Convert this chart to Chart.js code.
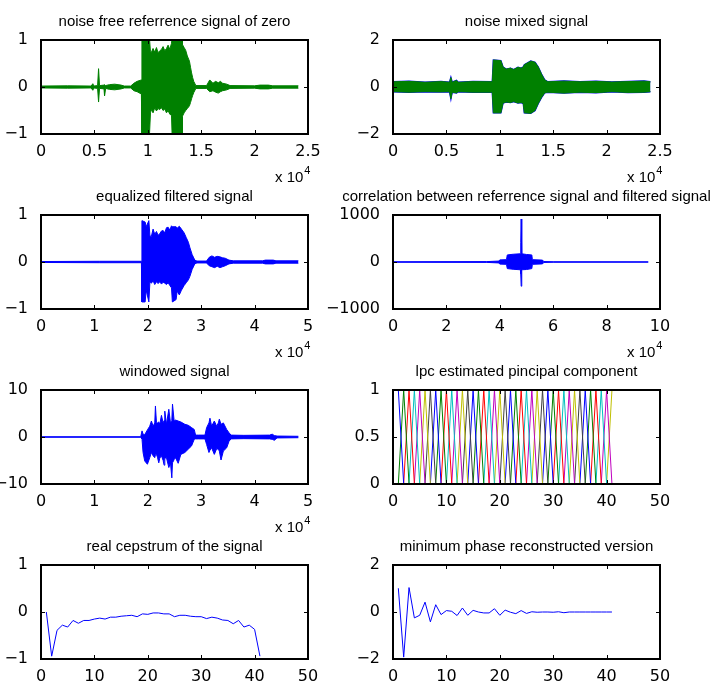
<!DOCTYPE html>
<html>
<head>
<meta charset="utf-8">
<script src="https://cdn.jsdelivr.net/npm/chart.js@4/dist/chart.umd.min.js"></script>
<style>
  html, body { margin: 0; padding: 0; background: #fff; overflow: hidden; }
  #wrap { position: relative; width: 712px; height: 682px; }
  #wrap canvas { position: absolute; left: 0; }
</style>
</head>
<body>
<div id="wrap"></div>
<script>
// ---- data (envelopes of the dense signals: x, upper, lower) ----
const titles = [
  'noise free referrence signal of zero',
  'noise mixed signal',
  'equalized filtered signal',
  'correlation between referrence signal and filtered signal',
  'windowed signal',
  'lpc estimated pincipal component',
  'real cepstrum of the signal',
  'minimum phase reconstructed version'
];

const refX  = [0, 2500, 4700, 4850, 4950, 5300, 5390, 5480, 5900, 5950, 6050, 6400, 6900, 7500, 7800, 8400, 8700, 9000, 9400, 9450, 10150, 10250, 10340, 10490, 10650, 10810, 10960, 11120, 11280, 11430, 11590, 11750, 11900, 12060, 12220, 12280, 13220, 13250, 13400, 13550, 13700, 13900, 14000, 14100, 14200, 14300, 14500, 15500, 15800, 16100, 16350, 16600, 16800, 17000, 17400, 17700, 20000, 20500, 21300, 21700, 24100];
const refUp = [0.02, 0.025, 0.02, 0.07, 0.02, 0.03, 0.39, 0.03, 0.04, 0.05, 0.03, 0.05, 0.06, 0.04, 0.02, 0.02, 0.08, 0.12, 0.15, 1.05, 1.05, 0.75, 0.74, 0.82, 0.74, 0.84, 0.73, 0.77, 0.8, 0.86, 0.77, 0.82, 0.89, 0.8, 0.93, 1.05, 1.05, 0.9, 0.84, 0.78, 0.66, 0.55, 0.42, 0.3, 0.2, 0.12, 0.03, 0.03, 0.15, 0.08, 0.12, 0.09, 0.12, 0.08, 0.06, 0.03, 0.025, 0.04, 0.04, 0.025, 0.025];
const refLo = [-0.02, -0.025, -0.02, -0.07, -0.02, -0.03, -0.32, -0.03, -0.04, -0.19, -0.03, -0.05, -0.06, -0.04, -0.02, -0.02, -0.08, -0.1, -0.15, -1.05, -1.05, -0.55, -0.48, -0.55, -0.44, -0.51, -0.46, -0.48, -0.44, -0.5, -0.47, -0.55, -0.5, -0.58, -0.6, -1.05, -1.05, -0.62, -0.55, -0.5, -0.46, -0.4, -0.33, -0.25, -0.18, -0.12, -0.03, -0.03, -0.1, -0.08, -0.11, -0.13, -0.1, -0.08, -0.06, -0.03, -0.025, -0.04, -0.04, -0.025, -0.025];

const mixX  = [0, 1500, 3000, 4500, 5300, 5420, 5540, 5950, 6100, 7500, 9300, 9400, 10100, 10300, 10600, 11000, 11300, 11700, 12000, 12200, 12300, 12900, 13300, 13600, 13900, 14200, 14500, 16000, 17500, 19000, 20500, 22000, 23500, 24100];
const mixUp = [0.22, 0.24, 0.2, 0.23, 0.2, 0.4, 0.2, 0.28, 0.2, 0.23, 0.22, 1.15, 1.12, 0.85, 0.76, 0.8, 0.74, 0.84, 0.8, 0.85, 0.95, 1.1, 1.05, 0.85, 0.55, 0.3, 0.22, 0.25, 0.22, 0.24, 0.21, 0.23, 0.25, 0.22];
const mixLo = [-0.2, -0.22, -0.2, -0.21, -0.2, -0.5, -0.22, -0.25, -0.2, -0.22, -0.22, -1.1, -1.1, -0.68, -0.64, -0.66, -0.62, -0.68, -0.66, -0.7, -1.1, -1.12, -1.0, -0.7, -0.45, -0.25, -0.22, -0.26, -0.22, -0.24, -0.2, -0.23, -0.22, -0.2];

const eqX  = [0, 11000, 18800, 18900, 19500, 19700, 20200, 20400, 20680, 20990, 21300, 21620, 21930, 22240, 22560, 22870, 23180, 23500, 23810, 24120, 24440, 24600, 25300, 25500, 25900, 26300, 26800, 27200, 27600, 27900, 28300, 28800, 29200, 31000, 31500, 32000, 32500, 33000, 33500, 34000, 34500, 35200, 36000, 41500, 42000, 43500, 44000, 48200];
const eqUp = [0.01, 0.015, 0.015, 0.88, 0.85, 0.75, 0.88, 0.55, 0.55, 0.7, 0.59, 0.65, 0.57, 0.6, 0.66, 0.67, 0.62, 0.73, 0.74, 0.68, 0.77, 0.75, 0.75, 0.72, 0.76, 0.7, 0.62, 0.52, 0.42, 0.3, 0.16, 0.04, 0.02, 0.02, 0.1, 0.13, 0.1, 0.12, 0.11, 0.09, 0.08, 0.04, 0.025, 0.025, 0.04, 0.04, 0.025, 0.025];
const eqLo = [-0.01, -0.015, -0.015, -0.85, -0.85, -0.6, -0.85, -0.42, -0.45, -0.4, -0.48, -0.42, -0.46, -0.42, -0.47, -0.43, -0.45, -0.48, -0.44, -0.5, -0.55, -0.85, -0.8, -0.62, -0.7, -0.6, -0.5, -0.44, -0.38, -0.3, -0.16, -0.04, -0.02, -0.02, -0.08, -0.1, -0.12, -0.09, -0.12, -0.1, -0.08, -0.04, -0.025, -0.025, -0.04, -0.04, -0.025, -0.025];

const corrX  = [0, 35000, 39700, 40000, 42500, 42800, 45000, 47700, 47850, 48000, 48150, 48300, 50000, 52000, 52200, 56000, 56500, 60000, 95600];
const corrUp = [5, 8, 20, 45, 50, 150, 165, 175, 420, 915, 420, 175, 160, 150, 50, 40, 10, 5, 3];
const corrLo = [-5, -8, -20, -45, -50, -140, -155, -165, -250, -515, -250, -165, -160, -140, -50, -40, -10, -5, -3];

const winX  = [0, 18672, 18922, 19110, 19424, 19925, 20363, 20677, 20990, 21303, 21429, 21617, 21805, 22055, 22243, 22556, 22870, 23058, 23183, 23496, 23935, 24248, 24499, 24624, 24937, 25188, 25689, 26190, 26942, 27569, 28195, 28697, 28947, 29500, 30700, 31015, 31454, 31642, 31955, 32456, 32895, 33208, 33396, 33709, 34148, 34774, 35213, 35589, 38000, 42800, 43300, 43700, 44200, 48200];
const winUp = [0.05, 0.05, 1.3, 0.6, 0.5, 1.5, 2.3, 3.4, 2.3, 3.0, 6.6, 3.2, 3.0, 3.2, 2.7, 4.6, 3.0, 3.5, 5.5, 2.7, 5.9, 3.0, 3.5, 7.0, 3.4, 3.6, 3.4, 3.2, 2.7, 2.5, 2.0, 1.6, 0.4, 0.4, 0.4, 2.0, 3.0, 4.0, 2.3, 3.4, 2.3, 3.0, 3.8, 2.7, 3.0, 1.6, 0.9, 0.4, 0.35, 0.4, 0.6, 0.3, 0.2, 0.15];
const winLo = [-0.05, -0.05, -0.5, -3.3, -5.1, -5.8, -4.4, -3.3, -4.0, -4.4, -3.8, -3.7, -4.3, -5.5, -4.5, -4.0, -5.0, -6.0, -4.5, -4.4, -6.5, -5.5, -8.7, -5.5, -4.8, -4.4, -5.6, -3.7, -3.3, -2.6, -1.9, -0.5, -0.4, -0.4, -0.4, -1.6, -3.3, -2.8, -2.3, -3.7, -2.5, -2.6, -3.0, -4.9, -3.0, -2.3, -0.9, -0.4, -0.35, -0.4, -0.5, -0.7, -0.2, -0.15];

const lpcX     = [1, 2, 3, 4, 5, 6, 7, 8, 9, 10, 11, 12, 13, 14, 15, 16, 17, 18, 19, 20, 21, 22, 23, 24, 25, 26, 27, 28, 29, 30, 31, 32, 33, 34, 35, 36, 37, 38, 39, 40, 41];
const lpcPeaks = [1, 2, 3, 4, 5, 6, 7, 8, 9, 10, 11, 12, 13, 14, 15, 16, 17, 18, 19, 20, 21, 22, 23, 24, 25, 26, 27, 28, 29, 30, 31, 32, 33, 34, 35, 36, 37, 38, 39, 40, 41];
const lpcColors = ['#0000ff', '#008000', '#ff0000', '#00bfbf', '#bf00bf', '#bfbf00', '#404040'];

const cepX = lpcX;
const cepY = [0, -0.94, -0.39, -0.28, -0.32, -0.18, -0.24, -0.18, -0.18, -0.15, -0.13, -0.15, -0.11, -0.11, -0.09, -0.08, -0.07, -0.1, -0.04, -0.05, -0.02, -0.02, -0.04, -0.04, -0.1, -0.07, -0.07, -0.09, -0.1, -0.1, -0.14, -0.11, -0.13, -0.17, -0.18, -0.25, -0.18, -0.32, -0.28, -0.37, -0.94];

const minX = lpcX;
const minY = [1.01, -1.92, 1.04, -0.25, -0.14, 0.42, -0.42, 0.31, -0.11, 0.06, 0.03, -0.15, 0.17, -0.14, 0.07, 0, -0.04, -0.04, 0.14, -0.14, 0.08, -0.01, -0.07, 0.06, -0.06, 0.01, -0.01, 0, 0, -0.01, 0.01, -0.03, 0, 0, 0, 0, 0, 0, 0, 0, 0];

// tick labels
const ticks25k  = ['0', '0.5', '1', '1.5', '2', '2.5'];
const ticks50k  = ['0', '1', '2', '3', '4', '5'];
const ticks100k = ['0', '2', '4', '6', '8', '10'];
const ticks50   = ['0', '10', '20', '30', '40', '50'];
const yTicks1   = ['\u22121', '0', '1'];
const yTicks2   = ['\u22122', '0', '2'];
const yTicks10  = ['\u221210', '0', '10'];
const yTicks1000 = ['\u22121000', '0', '1000'];
const yTicksLpc = ['0', '0.5', '1'];

// ---- drawing ----
const FONT = "'Liberation Sans', Arial, Helvetica, sans-serif";
const TICK_FONT = "'DejaVu Sans', sans-serif";
const BLUE = '#0000ff', GREEN = '#008000';
const CW = 712, CH = 200;

const pts = (xs, ys) => xs.map((x, i) => ({ x, y: ys[i] }));

function band(xs, up, lo, color, width) {
  return [
    { data: pts(xs, up), borderColor: color, backgroundColor: color, borderWidth: width, fill: '+1' },
    { data: pts(xs, lo), borderColor: color, backgroundColor: color, borderWidth: width, fill: false }
  ];
}

// MATLAB style box, inward ticks, title and the "x 10^4" multiplier
const matlabAxes = {
  id: 'matlabAxes',
  afterDraw(chart, args, o) {
    const { ctx, chartArea: a, scales: { x, y } } = chart;
    ctx.save();
    ctx.strokeStyle = '#000';
    ctx.lineWidth = 1;
    ctx.beginPath();
    x.ticks.forEach(t => {
      const p = Math.round(x.getPixelForValue(t.value)) + 0.5;
      ctx.moveTo(p, a.bottom); ctx.lineTo(p, a.bottom - 4);
      ctx.moveTo(p, a.top); ctx.lineTo(p, a.top + 4);
    });
    y.ticks.forEach(t => {
      const p = Math.round(y.getPixelForValue(t.value)) + 0.5;
      ctx.moveTo(a.left, p); ctx.lineTo(a.left + 4, p);
      ctx.moveTo(a.right, p); ctx.lineTo(a.right - 4, p);
    });
    ctx.stroke();
    ctx.lineWidth = 2;
    ctx.strokeRect(a.left, a.top, a.right - a.left, a.bottom - a.top);

    ctx.fillStyle = '#000';
    ctx.font = '15px ' + FONT;
    ctx.textAlign = 'center';
    ctx.textBaseline = 'alphabetic';
    ctx.fillText(o.title, (a.left + a.right) / 2, 26);

    if (o.exponent) {
      ctx.textAlign = 'left';
      const x0 = a.right - 33;
      ctx.fillText('x 10', x0, a.bottom + 48);
      const w = ctx.measureText('x 10').width;
      ctx.font = '11px ' + FONT;
      ctx.fillText('4', x0 + w + 1, a.bottom + 40);
    }
    ctx.restore();
  }
};

function makeChart(i, datasets, xr, yr, xLabels, yLabels, exponent) {
  const col = i % 2, row = Math.floor(i / 2);
  const left = col ? 393 : 41, right = col ? 660 : 308;
  const cv = document.createElement('canvas');
  cv.width = CW; cv.height = CH;
  cv.style.top = (row * 175) + 'px';
  document.getElementById('wrap').appendChild(cv);

  datasets.forEach(d => { d.pointRadius = 0; d.tension = 0; });

  new Chart(cv, {
    type: 'line',
    data: { datasets },
    plugins: [matlabAxes],
    options: {
      responsive: false,
      animation: false,
      devicePixelRatio: 1,
      events: [],
      layout: { padding: { left: 0, right: CW - right, top: 40, bottom: 0 } },
      plugins: {
        legend: { display: false },
        tooltip: { enabled: false },
        matlabAxes: { title: titles[i], exponent }
      },
      scales: {
        x: {
          type: 'linear', min: xr[0], max: xr[1], grid: { display: false }, border: { display: false },
          afterFit: s => { s.height = CH - 134; },
          ticks: {
            stepSize: (xr[1] - xr[0]) / (xLabels.length - 1), autoSkip: false, maxRotation: 0,
            padding: 0, color: '#000', font: { family: TICK_FONT, size: 16 },
            callback: (v, k) => xLabels[k]
          }
        },
        y: {
          type: 'linear', min: yr[0], max: yr[1], grid: { display: false }, border: { display: false },
          afterFit: s => { s.width = left; },
          ticks: {
            stepSize: (yr[1] - yr[0]) / (yLabels.length - 1), padding: 5, color: '#000',
            font: { family: TICK_FONT, size: 16 },
            callback: (v, k) => yLabels[k]
          }
        }
      }
    }
  });
}

makeChart(0, band(refX, refUp, refLo, GREEN, 1), [0, 25000], [-1, 1], ticks25k, yTicks1, true);
makeChart(1, [...band(mixX, mixUp, mixLo, GREEN, 1), ...band(mixX, mixUp, mixLo, BLUE, 1.5)], [0, 25000], [-2, 2], ticks25k, yTicks2, true);
makeChart(2, band(eqX, eqUp, eqLo, BLUE, 1), [0, 50000], [-1, 1], ticks50k, yTicks1, true);
makeChart(3, band(corrX, corrUp, corrLo, BLUE, 1), [0, 100000], [-1000, 1000], ticks100k, yTicks1000, true);
makeChart(4, band(winX, winUp, winLo, BLUE, 1), [0, 50000], [-10, 10], ticks50k, yTicks10, true);

const lpcSets = lpcPeaks.map((pk, k) => ({
  data: pts(lpcX, lpcX.map(x => (x === pk ? 1 : 0))),
  borderColor: lpcColors[k % lpcColors.length], borderWidth: 1, fill: false
}));
makeChart(5, lpcSets, [0, 50], [0, 1], ticks50, yTicksLpc, false);

makeChart(6, [{ data: pts(cepX, cepY), borderColor: BLUE, borderWidth: 1, fill: false }], [0, 50], [-1, 1], ticks50, yTicks1, false);
makeChart(7, [{ data: pts(minX, minY), borderColor: BLUE, borderWidth: 1, fill: false }], [0, 50], [-2, 2], ticks50, yTicks2, false);
</script>
</body>
</html>
